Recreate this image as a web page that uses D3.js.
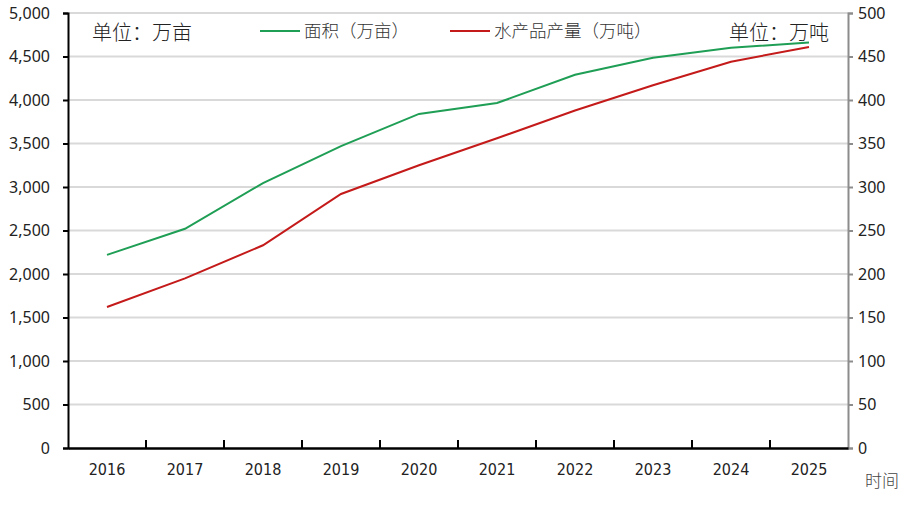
<!DOCTYPE html>
<html>
<head>
<meta charset="utf-8">
<script src="https://cdn.jsdelivr.net/npm/d3@7"></script>
<style>
  body { margin: 0; background: #fff; }
  svg { display: block; }
</style>
</head>
<body>
<div id="chart"></div>
<script>
var years = ["2016","2017","2018","2019","2020","2021","2022","2023","2024","2025"];
var area = [2220, 2520, 3045, 3470, 3840, 3965, 4290, 4485, 4600, 4660];
var output = [162, 195, 233, 292, 325, 356, 388, 417, 444, 461];
var leftTicks = [0, 500, 1000, 1500, 2000, 2500, 3000, 3500, 4000, 4500, 5000];
var rightTicks = [0, 50, 100, 150, 200, 250, 300, 350, 400, 450, 500];

var width = 913, height = 507;
var plotLeft = 68, plotRight = 848, plotTop = 13, plotBottom = 448;
var cjk = "'Noto Sans CJK SC', sans-serif";
var num = "'Liberation Sans Narrow', 'DejaVu Sans Condensed', sans-serif";

var svg = d3.select("#chart").append("svg")
  .attr("width", width)
  .attr("height", height);

var x = d3.scaleBand().domain(years).range([plotLeft, plotRight]);
var yL = d3.scaleLinear().domain([0, 5000]).range([plotBottom, plotTop]);
var yR = d3.scaleLinear().domain([0, 500]).range([plotBottom, plotTop]);

// gridlines
svg.append("g").selectAll("line").data(leftTicks.slice(1)).enter().append("line")
  .attr("x1", plotLeft).attr("x2", plotRight)
  .attr("y1", function(d){ return yL(d); })
  .attr("y2", function(d){ return yL(d); })
  .attr("stroke", "#d9d9d9").attr("stroke-width", 2);

// left axis
var gL = svg.append("g")
  .attr("transform", "translate(" + plotLeft + ",0)")
  .call(d3.axisLeft(yL).tickValues(leftTicks).tickFormat(d3.format(",")).tickSize(5).tickPadding(13));
gL.select(".domain").attr("stroke", "#000").attr("stroke-width", 2);
gL.selectAll(".tick line").attr("stroke", "#000").attr("stroke-width", 2);
gL.selectAll("text").attr("font-family", "'Noto Sans', sans-serif").attr("font-size", 16).attr("fill", "#222");

// right axis
var gR = svg.append("g")
  .attr("transform", "translate(" + plotRight + ",0)")
  .call(d3.axisRight(yR).tickValues(rightTicks).tickSize(5).tickPadding(5));
gR.select(".domain").attr("stroke", "#8c8c8c").attr("stroke-width", 2);
gR.selectAll(".tick line").attr("stroke", "#8c8c8c").attr("stroke-width", 2);
gR.selectAll("text").attr("font-family", "'Noto Sans', sans-serif").attr("font-size", 16).attr("fill", "#222");

// bottom axis: ticks between categories pointing inward
var gB = svg.append("g")
  .attr("transform", "translate(0," + plotBottom + ")")
  .call(d3.axisBottom(x).tickSize(0).tickPadding(16));
gB.select(".domain").attr("stroke", "#000").attr("stroke-width", 2.5);
gB.selectAll("text").attr("font-family", num).attr("font-size", 16).attr("fill", "#222");
gB.selectAll(".sep").data(years.slice(1)).enter().append("line")
  .attr("class", "sep")
  .attr("x1", function(d){ return x(d); })
  .attr("x2", function(d){ return x(d); })
  .attr("y1", 0).attr("y2", -8)
  .attr("stroke", "#000").attr("stroke-width", 2);

// lines
var lineL = d3.line()
  .x(function(d, i){ return x(years[i]) + x.bandwidth() / 2; })
  .y(function(d){ return yL(d); });
var lineR = d3.line()
  .x(function(d, i){ return x(years[i]) + x.bandwidth() / 2; })
  .y(function(d){ return yR(d); });

svg.append("path").datum(area)
  .attr("d", lineL).attr("fill", "none")
  .attr("stroke", "#1f9e55").attr("stroke-width", 2);
svg.append("path").datum(output)
  .attr("d", lineR).attr("fill", "none")
  .attr("stroke", "#c41a1a").attr("stroke-width", 2);

// legend
var legend = [
  { name: "面积（万亩）", color: "#1f9e55", x: 260 },
  { name: "水产品产量（万吨）", color: "#c41a1a", x: 450 }
];
var lg = svg.append("g").selectAll("g").data(legend).enter().append("g")
  .attr("transform", function(d){ return "translate(" + d.x + ",31)"; });
lg.append("line").attr("x1", 0).attr("x2", 40)
  .attr("stroke", function(d){ return d.color; }).attr("stroke-width", 2);
lg.append("text").attr("x", 44).attr("y", 6)
  .attr("font-family", cjk).attr("font-size", 17.5).attr("font-weight", 300).attr("fill", "#333")
  .text(function(d){ return d.name; });

// unit labels
svg.append("text").attr("x", 92).attr("y", 40)
  .attr("font-family", cjk).attr("font-size", 20).attr("font-weight", 300).attr("fill", "#222")
  .text("单位：万亩");
svg.append("text").attr("x", 829).attr("y", 40).attr("text-anchor", "end")
  .attr("font-family", cjk).attr("font-size", 20).attr("font-weight", 300).attr("fill", "#222")
  .text("单位：万吨");
svg.append("text").attr("x", 865).attr("y", 487)
  .attr("font-family", cjk).attr("font-size", 17).attr("font-weight", 300).attr("fill", "#444")
  .text("时间");
</script>
</body>
</html>
